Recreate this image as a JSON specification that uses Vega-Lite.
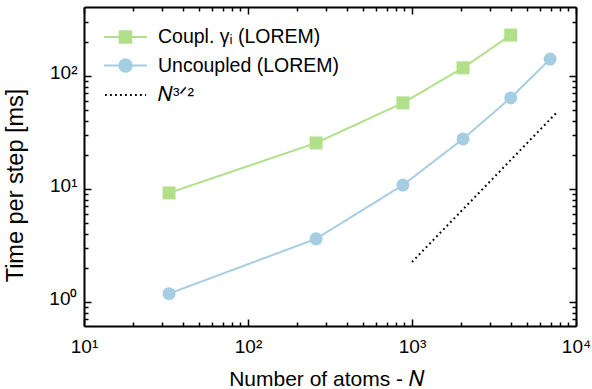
{
  "$schema": "https://vega.github.io/schema/vega-lite/v6.json",
  "width": 492,
  "height": 319,
  "autosize": {"type": "none"},
  "padding": {"left": 84, "top": 7, "right": 16, "bottom": 63},
  "background": "white",
  "config": {
    "view": {"stroke": null},
    "font": "Liberation Sans",
    "axis": {
      "grid": false,
      "domainColor": "black",
      "domainWidth": 2,
      "tickColor": "black",
      "tickWidth": 1.5,
      "labelFont": "Liberation Sans",
      "labelFontSize": 19,
      "labelColor": "black",
      "titleFont": "Liberation Sans",
      "titleFontWeight": "normal",
      "titleColor": "black",
      "labelOverlap": false,
      "labelFlush": false
    },
    "legend": {
      "labelFont": "Liberation Sans",
      "labelFontSize": 19.5,
      "labelColor": "black",
      "labelLimit": 400
    }
  },
  "data": {
    "values": [
      {"series": "A", "N": 33, "t": 9.2},
      {"series": "A", "N": 260, "t": 25.5},
      {"series": "A", "N": 880, "t": 57.7},
      {"series": "A", "N": 2048, "t": 118},
      {"series": "A", "N": 4000, "t": 230},
      {"series": "B", "N": 33, "t": 1.18},
      {"series": "B", "N": 260, "t": 3.61},
      {"series": "B", "N": 880, "t": 10.8},
      {"series": "B", "N": 2048, "t": 27.7},
      {"series": "B", "N": 4000, "t": 63.9},
      {"series": "B", "N": 6950, "t": 141},
      {"series": "C", "N": 1000, "t": 2.25},
      {"series": "C", "N": 7700, "t": 48.1}
    ]
  },
  "layer": [
    {
      "mark": {"type": "line", "strokeWidth": 2},
      "encoding": {
        "x": {
          "field": "N", "type": "quantitative",
          "scale": {"type": "log", "domain": [10, 10000]},
          "axis": {
            "orient": "bottom",
            "values": [10,20,30,40,50,60,70,80,90,100,200,300,400,500,600,700,800,900,1000,2000,3000,4000,5000,6000,7000,8000,9000,10000],
            "labelExpr": "datum.value == 10 ? '10¹' : datum.value == 100 ? '10²' : datum.value == 1000 ? '10³' : datum.value == 10000 ? '10⁴' : ''",
            "tickSize": {"condition": {"test": "datum.value == 10 || datum.value == 100 || datum.value == 1000 || datum.value == 10000", "value": -7}, "value": -4},
            "labelPadding": 18,
            "title": "Number of atoms - 𝑁",
            "titleFontSize": 21,
            "titlePadding": 9,
            "titleX": 242
          }
        },
        "y": {
          "field": "t", "type": "quantitative",
          "scale": {"type": "log", "domain": [0.61, 408]},
          "axis": {
            "orient": "left",
            "values": [0.7,0.8,0.9,1,2,3,4,5,6,7,8,9,10,20,30,40,50,60,70,80,90,100,200,300],
            "labelExpr": "datum.value == 1 ? '10⁰' : datum.value == 10 ? '10¹' : datum.value == 100 ? '10²' : ''",
            "tickSize": {"condition": {"test": "datum.value == 1 || datum.value == 10 || datum.value == 100", "value": -7}, "value": -4},
            "labelPadding": 14,
            "labelOffset": -3,
            "title": "Time per step [ms]",
            "titleFontSize": 23.5,
            "titlePadding": 21,
            "titleY": 178
          }
        },
        "color": {
          "field": "series", "type": "nominal",
          "scale": {"domain": ["A", "B", "C"], "range": ["#b2df8a", "#a6cee3", "#000000"]},
          "legend": {
            "orient": "none",
            "legendX": 30.5,
            "legendY": 19,
            "title": null,
            "padding": 0,
            "symbolSize": 400,
            "symbolStrokeWidth": 2,
            "labelOffset": 21.5,
            "rowPadding": 7.5,
            "labelExpr": "datum.value == 'A' ? 'Coupl. γᵢ (LOREM)' : datum.value == 'B' ? 'Uncoupled (LOREM)' : '𝑁³ᐟ²'",
            "encode": {
              "symbols": {
                "update": {
                  "shape": {"signal": "datum.value == 'A' ? 'M-2.15,0H2.15M-0.58,-0.58H0.58V0.58H-0.58Z' : datum.value == 'B' ? 'M-2.15,0H2.15M0.62,0A0.62,0.62,0,1,1,-0.62,0A0.62,0.62,0,1,1,0.62,0' : 'M-2.05,0H2.05'"},
                  "fill": {"signal": "datum.value == 'A' ? '#b2df8a' : datum.value == 'B' ? '#a6cee3' : 'transparent'"},
                  "stroke": {"signal": "datum.value == 'A' ? '#b2df8a' : datum.value == 'B' ? '#a6cee3' : '#000000'"},
                  "strokeDash": {"signal": "datum.value == 'C' ? [1.8, 3.2] : [1, 0]"},
                  "opacity": {"value": 1}
                }
              }
            }
          }
        },
        "strokeDash": {
          "field": "series", "type": "nominal",
          "scale": {"domain": ["A", "B", "C"], "range": [[1, 0], [1, 0], [1.8, 3.2]]},
          "legend": null
        }
      }
    },
    {
      "transform": [{"filter": "datum.series != 'C'"}],
      "mark": {"type": "point", "filled": true, "opacity": 1, "size": 169},
      "encoding": {
        "x": {
          "field": "N", "type": "quantitative",
          "scale": {"type": "log", "domain": [10, 10000]},
          "axis": {
            "orient": "top",
            "values": [10,20,30,40,50,60,70,80,90,100,200,300,400,500,600,700,800,900,1000,2000,3000,4000,5000,6000,7000,8000,9000,10000],
            "labels": false,
            "tickSize": {"condition": {"test": "datum.value == 10 || datum.value == 100 || datum.value == 1000 || datum.value == 10000", "value": -7}, "value": -4},
            "title": null
          }
        },
        "y": {
          "field": "t", "type": "quantitative",
          "scale": {"type": "log", "domain": [0.61, 408]},
          "axis": {
            "orient": "right",
            "values": [0.7,0.8,0.9,1,2,3,4,5,6,7,8,9,10,20,30,40,50,60,70,80,90,100,200,300],
            "labels": false,
            "tickSize": {"condition": {"test": "datum.value == 1 || datum.value == 10 || datum.value == 100", "value": -7}, "value": -4},
            "title": null
          }
        },
        "color": {
          "field": "series", "type": "nominal",
          "scale": {"domain": ["A", "B", "C"], "range": ["#b2df8a", "#a6cee3", "#000000"]},
          "legend": null
        },
        "shape": {
          "field": "series", "type": "nominal",
          "scale": {"domain": ["A", "B"], "range": ["square", "circle"]},
          "legend": null
        }
      }
    }
  ],
  "resolve": {"axis": {"x": "independent", "y": "independent"}}
}
